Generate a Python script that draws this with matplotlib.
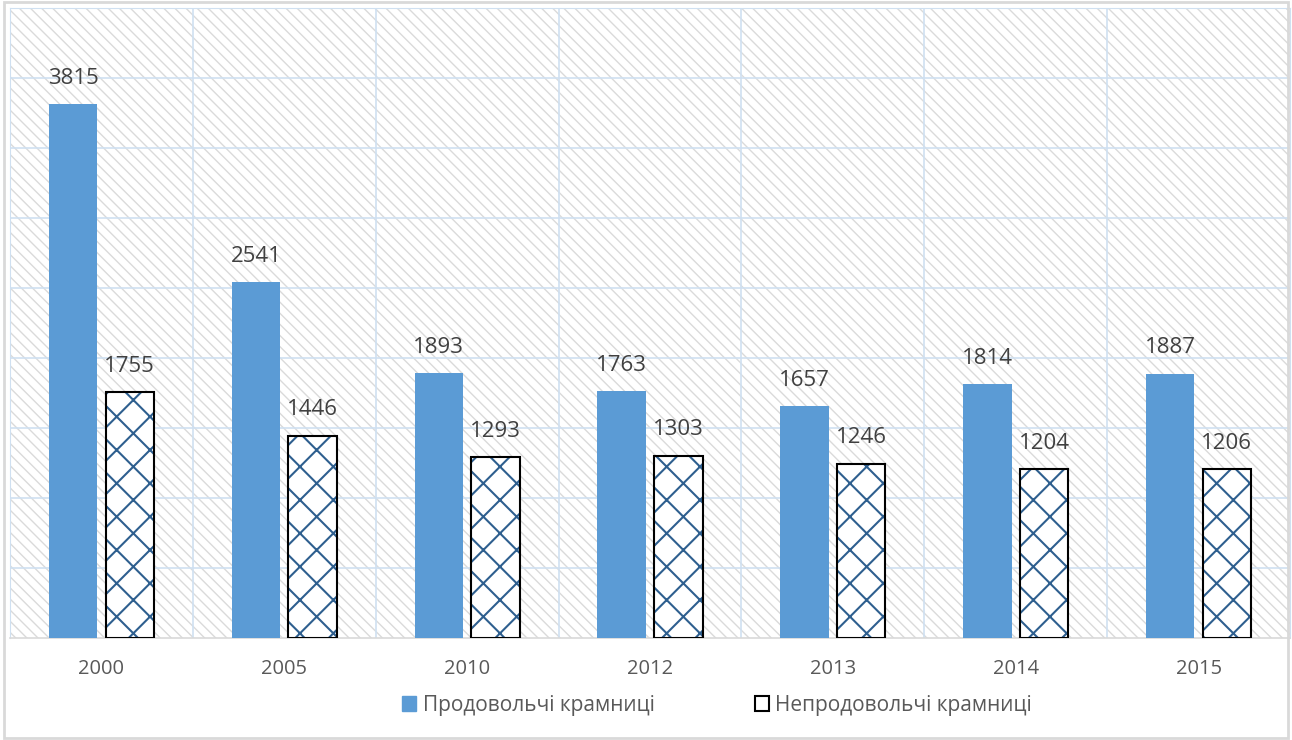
import matplotlib
matplotlib.use('Agg')
import matplotlib.pyplot as plt
import numpy as np
from matplotlib.patches import Rectangle, Patch

years = ['2000', '2005', '2010', '2012', '2013', '2014', '2015']
food = [3815, 2541, 1893, 1763, 1657, 1814, 1887]
nonfood = [1755, 1446, 1293, 1303, 1246, 1204, 1206]

plt.rcParams['font.family'] = ['Open Sans', 'DejaVu Sans']

fig = plt.figure(figsize=(12.92, 7.40), dpi=100)
ax = fig.add_axes([10 / 1292, 102 / 740, 1280 / 1292, 630 / 740])

x = np.arange(len(years))
w = 0.265
off = 0.155

# background diagonal stripes
plt.rcParams['hatch.linewidth'] = 1.0
bg = Rectangle((0, 0), 1, 1, transform=ax.transAxes, facecolor='white',
               edgecolor='#dadada', hatch='\\\\\\', linewidth=0, zorder=0)
ax.add_patch(bg)

ax.set_xlim(-0.5, len(years) - 0.5)
ax.set_ylim(0, 4500)
for yv in np.arange(500, 4500, 500):
    ax.axhline(yv, color='#cfe0f1', linewidth=1.2, zorder=1)
for xv in np.arange(0.5, len(years) - 0.5, 1):
    ax.axvline(xv, color='#cfe0f1', linewidth=1.2, zorder=1)

plt.rcParams['hatch.linewidth'] = 1.5
b1 = ax.bar(x - off, food, width=w, color='#5b9bd5', zorder=3)
b2 = ax.bar(x + off, nonfood, width=w, facecolor='white', edgecolor='black',
            linewidth=1.5, zorder=3)
for b in b2:
    b.set_hatch('x')
    b._hatch_color = matplotlib.colors.to_rgba('#2e5f8f')

for xi, v in zip(x, food):
    ax.text(xi - off, v + 110, str(v), ha='center', va='bottom', fontsize=16, color='#404040')
for xi, v in zip(x, nonfood):
    ax.text(xi + off, v + 110, str(v), ha='center', va='bottom', fontsize=16, color='#404040')

ax.set_yticks([])
ax.set_xticks(x)
ax.set_xticklabels(years, fontsize=14.5, color='#595959')
ax.tick_params(axis='x', length=0, pad=15)
for s in ['top', 'right', 'left']:
    ax.spines[s].set_color('#cfe0f1')
ax.spines['bottom'].set_color('#d9d9d9')
ax.spines['bottom'].set_linewidth(1.2)

h1 = Patch(facecolor='#5b9bd5', edgecolor='#5b9bd5')
h2 = Patch(facecolor='white', edgecolor='black', linewidth=1.5)
fig.legend([h1, h2], ['Продовольчі крамниці', 'Непродовольчі крамниці'],
           loc='center', bbox_to_anchor=(0.555, 1 - 705 / 740), ncol=2, frameon=False,
           fontsize=15, handlelength=0.7, handleheight=0.7, handletextpad=0.3,
           columnspacing=4.8, labelcolor='#595959')

# outer chart frame
fig.add_artist(Rectangle((4 / 1292, 2 / 740), 1 - 8 / 1292, 1 - 4 / 740,
                         transform=fig.transFigure, fill=False, edgecolor='#d9d9d9', linewidth=2))

fig.savefig('out.png', dpi=100)
